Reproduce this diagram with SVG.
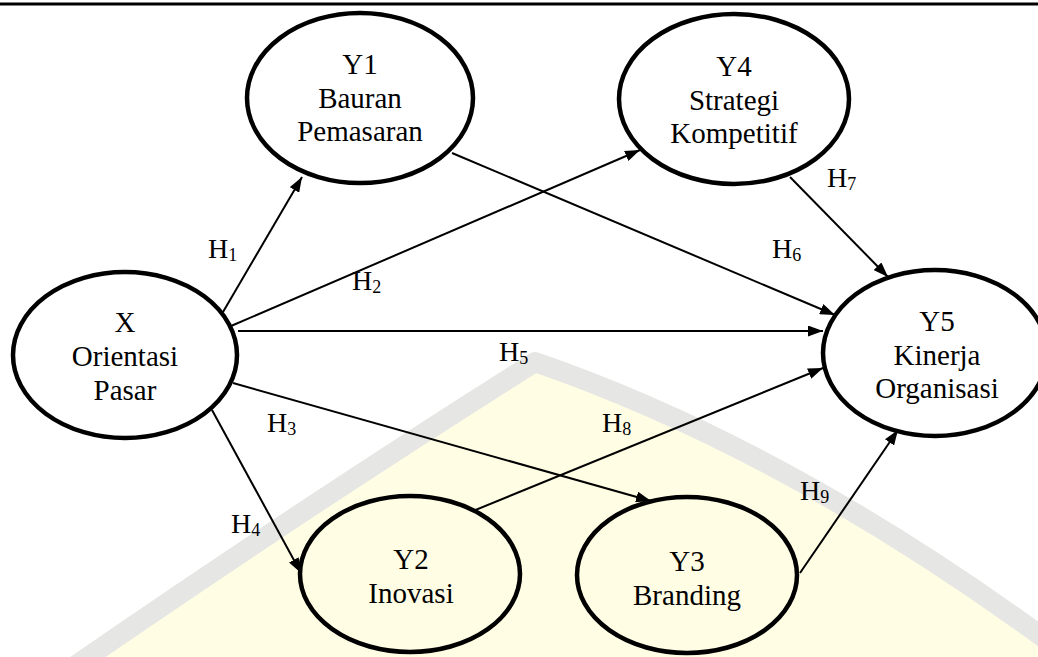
<svg xmlns="http://www.w3.org/2000/svg" width="1038" height="657" viewBox="0 0 1038 657">
<style>
.node{fill:none;stroke:#000;stroke-width:4.5}
.t{font-family:"Liberation Serif","Times New Roman",serif;font-size:29px;fill:#000;text-anchor:middle}
.h{font-family:"Liberation Serif","Times New Roman",serif;font-size:28px;fill:#000}
.sub{font-size:18px}
.e{stroke:#000;stroke-width:2;fill:none;marker-end:url(#arr)}
</style>
<defs>
<marker id="arr" markerUnits="userSpaceOnUse" markerWidth="15" markerHeight="11" refX="15" refY="5.5" orient="auto">
<path d="M0,0 L15,5.5 L0,11 z" fill="#000"/>
</marker>
</defs>
<rect width="1038" height="657" fill="#fff"/>
<g id="watermark">
<path d="M40,690 Q300,510 535,362 Q790,450 1060,650 L1060,700 L40,700 z" fill="#FFFDE4"/>
<path d="M40,690 Q300,510 535,362 Q790,450 1060,650" fill="none" stroke="#E6E6E4" stroke-width="20" stroke-linejoin="round"/>
</g>
<line x1="0" y1="4" x2="1038" y2="4" stroke="#000" stroke-width="3"/>
<g id="connectors">
<line class="e" x1="223" y1="312" x2="302" y2="177"/>
<line class="e" x1="231" y1="326" x2="640" y2="150"/>
<line class="e" x1="452" y1="153" x2="835" y2="315"/>
<line class="e" x1="790" y1="177" x2="888" y2="277"/>
<line class="e" x1="238" y1="331" x2="823" y2="331"/>
<line class="e" x1="233" y1="383" x2="651" y2="501"/>
<line class="e" x1="212" y1="410" x2="301" y2="573"/>
<line class="e" x1="473" y1="511" x2="823" y2="368"/>
<line class="e" x1="800" y1="573" x2="898" y2="430"/>
</g>
<g id="labels">
<text class="h" x="208" y="258">H<tspan class="sub" dy="3">1</tspan></text>
<text class="h" x="352" y="290">H<tspan class="sub" dy="3">2</tspan></text>
<text class="h" x="267" y="432">H<tspan class="sub" dy="3">3</tspan></text>
<text class="h" x="231" y="533">H<tspan class="sub" dy="3">4</tspan></text>
<text class="h" x="499" y="361">H<tspan class="sub" dy="3">5</tspan></text>
<text class="h" x="772" y="258">H<tspan class="sub" dy="3">6</tspan></text>
<text class="h" x="827" y="187">H<tspan class="sub" dy="3">7</tspan></text>
<text class="h" x="602" y="432">H<tspan class="sub" dy="3">8</tspan></text>
<text class="h" x="800" y="500">H<tspan class="sub" dy="3">9</tspan></text>
</g>
<g id="Y1">
<ellipse class="node" cx="360" cy="98" rx="113" ry="85"/>
<text class="t" x="360" y="74">Y1</text>
<text class="t" x="360" y="108">Bauran</text>
<text class="t" x="360" y="141">Pemasaran</text>
</g>
<g id="Y4">
<ellipse class="node" cx="734" cy="99" rx="115" ry="85"/>
<text class="t" x="734" y="76">Y4</text>
<text class="t" x="734" y="110">Strategi</text>
<text class="t" x="734" y="143">Kompetitif</text>
</g>
<g id="X">
<ellipse class="node" cx="125" cy="355" rx="112" ry="83"/>
<text class="t" x="125" y="332">X</text>
<text class="t" x="125" y="366">Orientasi</text>
<text class="t" x="125" y="400">Pasar</text>
</g>
<g id="Y5">
<ellipse class="node" cx="935" cy="353" rx="112" ry="83"/>
<text class="t" x="937" y="331">Y5</text>
<text class="t" x="937" y="365">Kinerja</text>
<text class="t" x="937" y="398">Organisasi</text>
</g>
<g id="Y2">
<ellipse class="node" cx="410" cy="574" rx="110" ry="78"/>
<text class="t" x="411" y="569">Y2</text>
<text class="t" x="411" y="603">Inovasi</text>
</g>
<g id="Y3">
<ellipse class="node" cx="687" cy="575" rx="110" ry="78"/>
<text class="t" x="687" y="571">Y3</text>
<text class="t" x="687" y="605">Branding</text>
</g>
</svg>
